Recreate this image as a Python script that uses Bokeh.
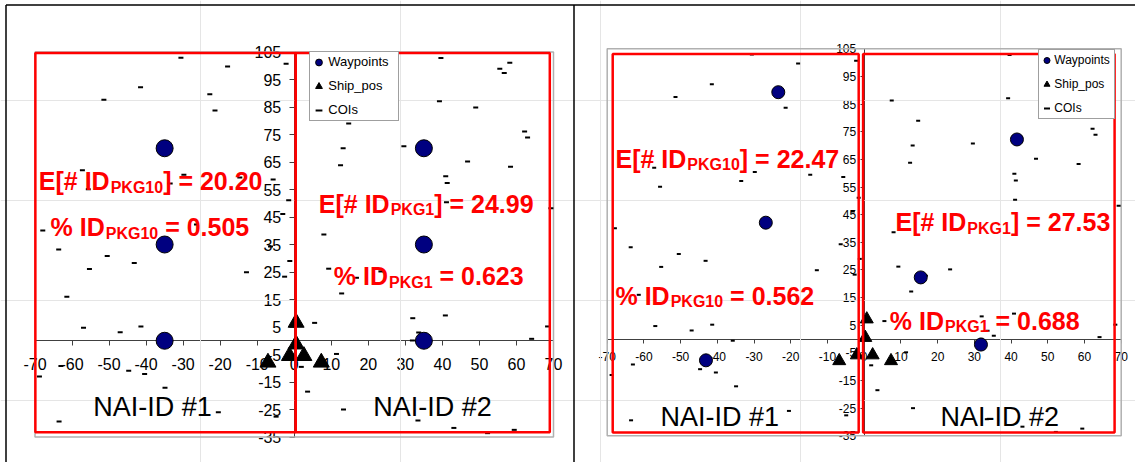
from bokeh.plotting import figure
from bokeh.models import Range1d, LinearAxis, FixedTicker, Legend, LegendItem
from bokeh.core.properties import value
from bokeh.embed import file_html
from bokeh.resources import INLINE

# ---------------- data ----------------
coi_x = [-30.6, -18.0, -2.2, -41.5, -51.4, -22.8, -21.4, -57.2, -29.8, -33.5,
         -5.7, -14.7, -55.6, -1.5, -3.1, -67.9, -63.6, -26.4, -6.4, 39.6,
         58.2, 55.5, 56.7, 39.2, 49.0, 7.5, 14.7, 62.2, 63.0, 13.2,
         29.6, 12.5, 46.8, 58.4, 40.9, 41.3, 41.1, 69.3, 8.0, -50.5,
         -43.2, -55.3, -12.9, -1.2, -2.6, -61.4, -56.9, -47.0, -41.4, -35.8,
         -63.0, -44.7, -40.4, -68.8, -34.9, -20.5, -4.9, -63.5, 9.3, 16.8,
         23.4, 12.8, 5.5, 32.0, 40.8, 33.6, 31.9, 35.3, 64.1, 68.4,
         11.4, 1.9, 3.6, 13.3, 33.4, 43.1, 52.2, 59.4]
coi_y = [102.9, 99.7, 100.7, 92.2, 87.6, 89.6, 83.7, 62.0, 60.4, 57.2,
         58.6, 59.4, 55.1, 51.1, 46.1, 40.1, 33.2, 42.3, 34.3, 102.8,
         101.1, 98.9, 97.4, 87.1, 84.8, 86.3, 79.0, 76.1, 73.9, 70.0,
         70.7, 63.8, 65.2, 63.3, 59.8, 57.4, 50.4, 48.2, 38.6, 30.8,
         28.3, 26.1, 24.9, 29.0, 23.3, 16.0, 4.7, 3.1, 5.2, -0.6,
         -9.2, -10.9, -12.1, -13.0, -17.1, -26.0, -27.6, -29.4, 26.2, 22.9,
         25.2, 17.2, 6.5, 8.2, 9.2, 3.0, 0.1, 1.2, 0.7, 5.2,
         -4.8, -9.5, -18.5, -25.0, -29.0, -31.7, -33.6, -32.4]

wp1_x = [-35, -35, -35, 35, 35, 35]
wp1_y = [70, 35, 0, 70, 35, 0]
ship1_x = [0.5, 0.5, -1.3, 2.6, -7.1, 7.3]
ship1_y = [6.6, -1.3, -5.5, -5.5, -7.9, -7.9]

wp2_x = [-23.4, -26.8, -43.1, 41.6, 15.4, 31.8]
wp2_y = [89.3, 42.1, -7.7, 72.2, 22.3, -2.0]
ship2_x = [0.7, 0.3, -2.0, 2.3, -6.8, 7.3]
ship2_y = [7.2, 0.5, -5.8, -5.8, -7.9, -7.9]

x_ticks = [-70, -60, -50, -40, -30, -20, -10, 0, 10, 20, 30, 40, 50, 60, 70]
x_tick_labels = ["-70", "-60", "-50", "-40", "-30", "-20", "-10", "0",
                 "10", "20", "30", "40", "50", "60", "70"]
y_ticks = [-35, -25, -15, -5, 5, 15, 25, 35, 45, 55, 65, 75, 85, 95, 105]
y_tick_labels = ["-35", "-25", "-15", "-5", "5", "15", "25", "35", "45",
                 "55", "65", "75", "85", "95", "105"]

series_names = ["Waypoints", "Ship_pos", "COIs"]
nai_names = ["NAI-ID #1", "NAI-ID #2"]

# NAI regions (data units) for each chart
nai1_left = [-69.9, 0.4]
nai1_right = [0.4, 69.0]
nai1_bottom = [-33.3, -33.3]
nai1_top = [104.6, 104.6]
nai2_left = [-68.5, -0.3]
nai2_right = [-1.5, 68.2]
nai2_bottom = [-33.8, -33.8]
nai2_top = [103.1, 103.1]

# results
e_pkg10 = ["20.20", "22.47"]
pct_pkg10 = ["0.505", "0.562"]
e_pkg1 = ["24.99", "27.53"]
pct_pkg1 = ["0.623", "0.688"]

# ---------------- layout ----------------
W, H = 1135, 462
PX0, PY0 = 0, 0
PX1, PY1 = PX0 + W, PY0 + H

# plot-area boxes in page pixels: (left, right, top, bottom)
BOX1 = (34.5, 553.0, 51.5, 436.5)
BOX2 = (606.7, 1120.7, 48.3, 435.3)


def ranges_for(box):
    l, r, t, b = box
    xs = (r - l) / (x_ticks[-1] - x_ticks[0])
    ys = (b - t) / (y_ticks[-1] - y_ticks[0])
    xr = Range1d(x_ticks[0] - (l - PX0) / xs, x_ticks[-1] + (PX1 - r) / xs)
    yr = Range1d(y_ticks[0] - (PY1 - b) / ys, y_ticks[-1] + (t - PY0) / ys)
    return xr, yr


p = figure(width=W, height=H, output_backend="svg", toolbar_location=None,
           x_range=Range1d(PX0, PX1), y_range=Range1d(PY1, PY0),
           x_axis_location=None, y_axis_location=None,
           min_border=0, outline_line_color=None)
p.background_fill_color = "white"
p.border_fill_color = "white"

x1r, y1r = ranges_for(BOX1)
x2r, y2r = ranges_for(BOX2)
p.extra_x_ranges = {"x1": x1r, "x2": x2r}
p.extra_y_ranges = {"y1": y1r, "y2": y2r}

# document frame lines (page pixel coordinates)
p.segment(x0=[5.5, 5.5, 573.5], y0=[4.5, 4.5, 4.5],
          x1=[5.5, PX1, 573.5], y1=[PY1, 4.5, PY1],
          line_color="black", line_width=1.5)

BOLD_W = {' ': 278, '#': 556, '%': 889, '.': 278, '=': 584, 'D': 722,
          'E': 667, 'G': 778, 'I': 278, 'K': 722, 'P': 667, '[': 333, ']': 333}
for d in "0123456789":
    BOLD_W[d] = 556


def tw(s, size):
    return sum(BOLD_W[c] for c in s) * size / 1000.0


def red_label(x, y, prefix, sub, suffix, xr, yr):
    big, small = 25, 16
    w1 = tw(prefix, big) + 1
    w2 = tw(sub, small)
    lead = len(suffix) - len(suffix.lstrip(" "))
    w3 = tw(" " * lead, big)
    common = dict(text_color="#ff0000", text_font=value("Liberation Sans"),
                  text_font_style="bold", text_align="left",
                  text_baseline="alphabetic", x_range_name=xr, y_range_name=yr)
    p.text(x=[x], y=[y], text=[prefix], text_font_size=f"{big}px", **common)
    p.text(x=[x], y=[y], text=[sub], x_offset=w1, y_offset=6,
           text_font_size=f"{small}px", **common)
    p.text(x=[x], y=[y], text=[suffix.lstrip(" ")], x_offset=w1 + w2 + w3,
           text_font_size=f"{big}px", **common)


def panel(xr, yr, wp_x, wp_y, ship_x, ship_y, nl, nr, nb, nt, k, cfg):
    rng = dict(x_range_name=xr, y_range_name=yr)
    # plot area frame
    p.quad(left=[x_ticks[0]], right=[x_ticks[-1]], bottom=[y_ticks[0]], top=[y_ticks[-1]],
           fill_color=None, line_color="#b0b0b0", line_width=1.5, **rng)
    # axes crossing at origin
    xa = LinearAxis(fixed_location=0, bounds=(x_ticks[0], x_ticks[-1]),
                    ticker=FixedTicker(ticks=x_ticks),
                    major_label_overrides=dict(zip(x_ticks, x_tick_labels)), **rng)
    ya = LinearAxis(fixed_location=0, bounds=(y_ticks[0], y_ticks[-1]),
                    ticker=FixedTicker(ticks=y_ticks),
                    major_label_overrides=dict(zip(y_ticks, y_tick_labels)), **rng)
    for ax, std in ((xa, cfg["std_x"]), (ya, cfg["std_y"])):
        ax.level = "underlay"
        ax.axis_line_color = "#404040"
        ax.axis_line_width = 1
        ax.major_tick_line_color = "#404040"
        ax.major_tick_out = cfg["tick"]
        ax.major_tick_in = 0
        ax.minor_tick_line_color = None
        ax.major_label_text_font = "Liberation Sans"
        ax.major_label_text_font_size = cfg["tick_font"]
        ax.major_label_text_color = "black"
        ax.major_label_standoff = std
    p.add_layout(xa, "below")
    p.add_layout(ya, "left")

    coi_r = p.scatter(coi_x, coi_y, marker="dash", size=cfg["dash"],
                      line_color="black", line_width=2, **rng)
    wp_r = p.scatter(wp_x, wp_y, marker="circle", size=cfg["wp"],
                     fill_color="#000080", line_color="black", line_width=1, **rng)
    ship_r = p.scatter(ship_x, ship_y, marker="triangle", size=cfg["ship"],
                       fill_color="black", line_color="black", **rng)

    p.quad(left=nl, right=nr, bottom=nb, top=nt, fill_color=None,
           line_color="#ff0000", line_width=2.5, **rng)

    (ex, ey), (px_, py_), (e1x, e1y), (p1x, p1y) = cfg["labels"]
    red_label(ex, ey, "E[# ID", "PKG10", "] = " + e_pkg10[k], xr, yr)
    red_label(px_, py_, "% ID", "PKG10", " = " + pct_pkg10[k], xr, yr)
    red_label(e1x, e1y, "E[# ID", "PKG1", "] = " + e_pkg1[k], xr, yr)
    red_label(p1x, p1y, "% ID", "PKG1", " = " + pct_pkg1[k], xr, yr)

    (n1x, n1y), (n2x, n2y) = cfg["nai"]
    p.text(x=[n1x, n2x], y=[n1y, n2y], text=nai_names, text_color="black",
           text_font=value("Liberation Sans"), text_font_size="27px",
           text_align="left", text_baseline="alphabetic", **rng)

    lg = Legend(items=[LegendItem(label=series_names[0], renderers=[wp_r]),
                       LegendItem(label=series_names[1], renderers=[ship_r]),
                       LegendItem(label=series_names[2], renderers=[coi_r])],
                location=cfg["leg_loc"], orientation="vertical",
                padding=0, margin=0, spacing=4,
                glyph_width=cfg["leg_gw"], glyph_height=20,
                label_standoff=cfg["leg_std"], label_width=cfg["leg_lw"],
                label_height=20, label_text_font="Liberation Sans",
                label_text_font_size=cfg["leg_font"], label_text_color="black",
                border_line_color="#404040", border_line_width=1,
                background_fill_color="white", background_fill_alpha=1.0)
    p.add_layout(lg, "center")


cfg1 = dict(std_x=12, std_y=8, tick=5, tick_font="16px", dash=5, wp=17, ship=16,
            labels=[(-68.97, 58.0), (-65.8, 41.3), (6.63, 49.8), (10.68, 23.4)],
            nai=[(-54.3, -24.2), (21.3, -24.2)],
            leg_loc=(309.3 - PX0, PY1 - 120.7), leg_gw=17, leg_std=1, leg_lw=70,
            leg_font="13px")
cfg2 = dict(std_x=9, std_y=4, tick=4, tick_font="12px", dash=4, wp=13, ship=13,
            labels=[(-67.74, 65.2), (-67.74, 15.75), (8.53, 42.27), (6.97, 6.71)],
            nai=[(-55.48, -28.27), (20.78, -28.27)],
            leg_loc=(1038.3 - PX0, PY1 - 119.3), leg_gw=15, leg_std=0, leg_lw=60,
            leg_font="12px")

panel("x1", "y1", wp1_x, wp1_y, ship1_x, ship1_y,
      nai1_left, nai1_right, nai1_bottom, nai1_top, 0, cfg1)
panel("x2", "y2", wp2_x, wp2_y, ship2_x, ship2_y,
      nai2_left, nai2_right, nai2_bottom, nai2_top, 1, cfg2)

open("out.html", "w").write(file_html(p, INLINE))
